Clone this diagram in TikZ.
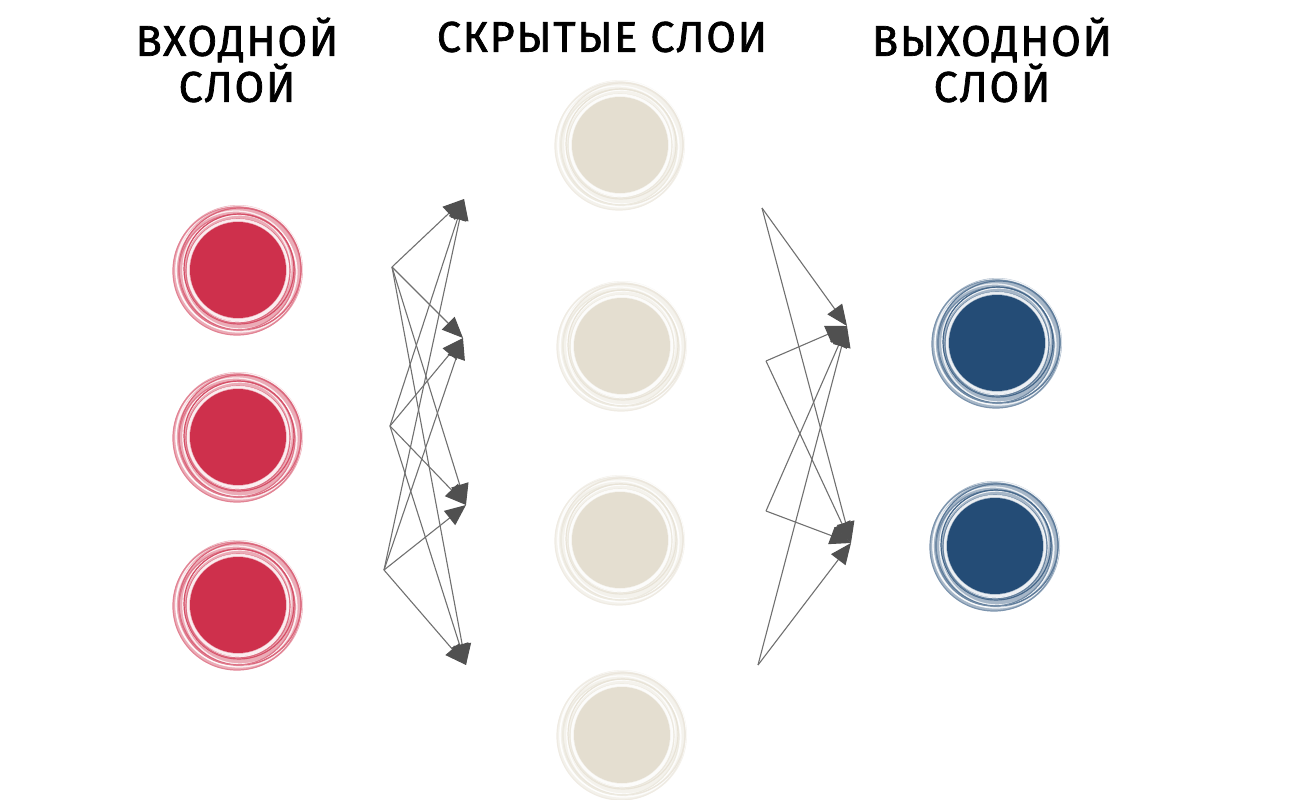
\documentclass[tikz,border=0pt]{standalone}
\usepackage{fontspec}
\setmainfont{Fira Sans}
\newfontfamily\titlefont{Fira Sans}[FakeBold=1.6, LetterSpace=4]
\usepackage{xcolor}
\usepackage{tikz}
\usetikzlibrary{arrows.meta}

\definecolor{inred}{RGB}{206,48,76}
\definecolor{hidbeige}{RGB}{228,222,208}
\definecolor{outblue}{RGB}{36,76,118}
\definecolor{wire}{RGB}{112,112,112}
\definecolor{tipgrey}{RGB}{80,80,80}

\tikzset{
  neuron/.style={circle, inner sep=0pt, minimum size=96pt, draw=none},
  wirearrow/.style={draw=wire, line width=1.1pt,
    -{Triangle[length=21pt,width=18pt,fill=tipgrey,color=tipgrey]}},
  layertitle/.style={font=\titlefont\fontsize{43}{46}\selectfont, align=center, inner sep=0pt}
}

%% scribbled neuron: name, x, y, colour
\newcommand{\neuron}[4]{%
  \fill[#4!40!white] (#2,#3) circle[radius=65pt];
  \foreach \r/\dx/\dy in {63/1/-1, 60/-2/1, 57/2/2, 54/-1/-2}
    \draw[white, line width=1.3pt, opacity=0.8] (#2+\dx,#3+\dy) circle[radius=\r pt];
  \foreach \r/\dx/\dy/\t in {64/-1/1/60, 61/2/-1/75, 58/-1/2/65, 55/1/-1/85, 52/0/1/70}
    \draw[#4!\t!white, line width=1.2pt] (#2+\dx,#3+\dy) circle[radius=\r pt];
  \draw[white, line width=2.5pt, opacity=0.8] (#2,#3) circle[radius=50pt];
  \node[neuron, fill=#4] (#1) at (#2,#3) {};
}

\begin{document}
\begin{tikzpicture}[x=1pt, y=-1pt]
\useasboundingbox (0,0) rectangle (1302,800);

%% titres
\node[layertitle] (tin)  at (237,60) {ВХОДНОЙ\\СЛОЙ};
\node[layertitle] (thid) at (602,37) {СКРЫТЫЕ СЛОИ};
\node[layertitle] (tout) at (992,60) {ВЫХОДНОЙ\\СЛОЙ};

%% couche d'entree
\neuron{in1}{238}{270}{inred}
\neuron{in2}{238}{437}{inred}
\neuron{in3}{238}{605}{inred}

%% couches cachees
\neuron{hid1}{620}{145}{hidbeige}
\neuron{hid2}{622}{346}{hidbeige}
\neuron{hid3}{620}{540}{hidbeige}
\neuron{hid4}{622}{735}{hidbeige}

%% couche de sortie
\neuron{out1}{997}{343}{outblue}
\neuron{out2}{995}{546}{outblue}

%% fleches de gauche
\coordinate (sA) at (392,267);
\coordinate (sB) at (390,426);
\coordinate (sC) at (384,570);
\coordinate (tA) at (464,199);
\coordinate (tB) at (463,338);
\coordinate (tC) at (466,505);
\coordinate (tD) at (466,665);

\foreach \s in {sA,sB,sC}
  \foreach \t in {tA,tD}
    \draw[wirearrow] (\s) -- (\t);
\draw[wirearrow] (sA) -- (tB);
\draw[wirearrow] (sB) -- (tB);
\draw[wirearrow] (sC) -- (tB);
\draw[wirearrow] (sA) -- (tC);
\draw[wirearrow] (sB) -- (tC);
\draw[wirearrow] (sC) -- (tC);

%% fleches de droite
\coordinate (rA) at (762,208);
\coordinate (rB) at (766,361);
\coordinate (rC) at (766,511);
\coordinate (rD) at (758,665);
\coordinate (uA) at (847,326);
\coordinate (uB) at (851,543);

\foreach \s in {rA,rB,rC,rD}
  \foreach \t in {uA,uB}
    \draw[wirearrow] (\s) -- (\t);
\end{tikzpicture}
\end{document}
